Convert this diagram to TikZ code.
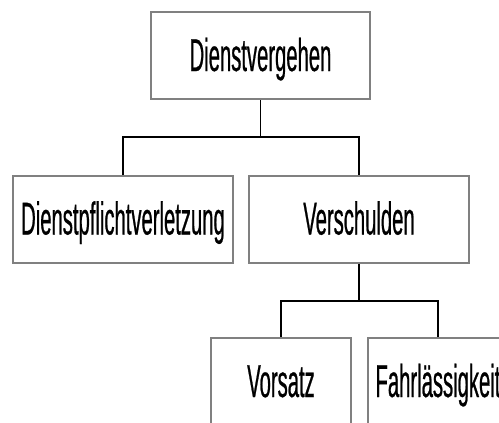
\documentclass[tikz,border=0pt]{standalone}
\usepackage{fontspec}
\newfontfamily\boxfont{Liberation Sans}[FakeStretch=0.44, FakeBold=0.5]
\definecolor{boxgray}{RGB}{128,128,128}
\tikzset{
  orgbox/.style={draw=boxgray, line width=2pt, fill=white, inner sep=0pt,
    minimum height=87pt, text height=31pt, text depth=0pt,
    font=\boxfont\fontsize{46pt}{50pt}\selectfont},
  widebox/.style={orgbox, minimum width=220pt},
  narrowbox/.style={orgbox, minimum width=140pt},
  stem/.style={line width=1.2pt, black},
  bar/.style={line width=2.6pt, black, line cap=rect},
}
\begin{document}
\begin{tikzpicture}[x=1pt,y=-1pt]
\useasboundingbox (0,0) rectangle (499,423);
\clip (0,0) rectangle (499,423);
\node[widebox, minimum width=219pt] (top) at (260.5,55.5) {Dienstvergehen};
\node[widebox] (dp) at (123,219) {Dienstpflichtverletzung};
\node[widebox] (vs) at (359,219) {Verschulden};
\node[narrowbox] (vo) at (281,381.5) {Vorsatz};
\node[narrowbox] (fa) at (438,381.5) {Fahrlässigkeit};
\coordinate (b1) at (260.5,137);
\coordinate (b2) at (359,301);
\draw[stem] (top.south) -- (b1);
\draw[stem] (dp.north |- b1) -- (dp.north);
\draw[stem] (vs.north |- b1) -- (vs.north);
\draw[bar] (dp.north |- b1) -- (vs.north |- b1);
\draw[stem] (vs.south) -- (b2);
\draw[stem] (vo.north |- b2) -- (vo.north);
\draw[stem] (fa.north |- b2) -- (fa.north);
\draw[bar] (vo.north |- b2) -- (fa.north |- b2);
\end{tikzpicture}
\end{document}
